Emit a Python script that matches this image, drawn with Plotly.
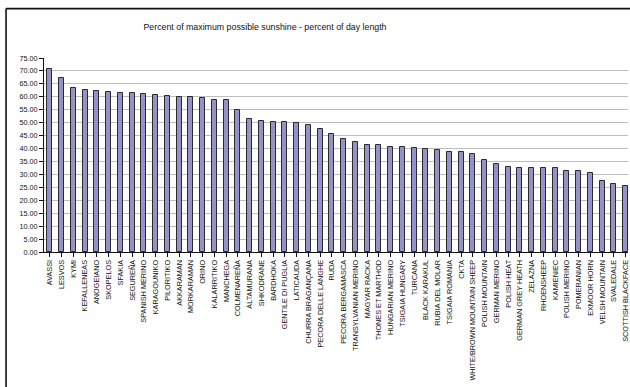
import plotly.graph_objects as go

# Sheep breeds, ordered by sunshine share
breeds = [
    "AVASSI", "LESVOS", "KYMI", "KEFALLENEAS", "ANOGEIANO", "SKOPELOS", "SFAKIA",
    "SEGUREÑA", "SPANISH MERINO", "KARAGOUNIKO", "PILORITIKO", "AKKARAMAN",
    "MORKARAMAN", "ORINO", "KALARRITIKO", "MANCHEGA", "COLMENAREÑA", "ALTAMURANA",
    "SHKODRANE", "BARDHOKA", "GENTILE DI PUGLIA", "LATICAUDA", "CHURRA BRAGANÇANA",
    "PECORA DELLE LANGHE", "RUDA", "PECORA BERGAMASCA", "TRANSYLVANIAN MERINO",
    "MAGYAR RACKA", "THONES ET MARTHOD", "HUNGARIAN MERINO", "TSIGAIA HUNGARY",
    "TURCANA", "BLACK KARAKUL", "RUBIA DEL MOLAR", "TSIGAIA ROMANIA", "CKTA",
    "WHITE/BROWN MOUNTAIN SHEEP", "POLISH MOUNTAIN", "GERMAN MERINO", "POLISH HEAT",
    "GERMAN GREY HEATH", "ZELAZNA", "RHOENSHEEP", "KAMIENIEC", "POLISH MERINO",
    "POMERANIAN", "EXMOOR HORN", "VELSH MOUNTAIN", "SVALEDALE", "SCOTTISH BLACKFACE",
]

# Percent of maximum possible sunshine
sunshine_pct = [
    70.6, 67.4, 63.4, 62.7, 62.2, 61.8, 61.3,
    61.3, 61.1, 60.7, 60.4, 59.8,
    59.8, 59.4, 58.6, 58.6, 55.0, 51.4,
    50.8, 50.3, 50.3, 50.0, 49.0,
    47.4, 45.6, 43.8, 42.6,
    41.4, 41.4, 40.7, 40.7,
    40.1, 39.7, 39.4, 38.7, 38.7,
    38.0, 35.7, 34.1, 32.9,
    32.4, 32.4, 32.4, 32.4, 31.4,
    31.4, 30.5, 27.4, 26.3, 25.4,
]

W, H = 630, 387
plot_left, plot_right = 43.6, 630.0
plot_top, plot_bottom = 58.0, 252.3

fig = go.Figure(
    go.Bar(
        x=list(range(len(breeds))),
        y=sunshine_pct,
        width=0.42,
        marker=dict(color="#9393CA", line=dict(color="#2a2a2a", width=1)),
    )
)

pw = plot_right - plot_left
ph = plot_bottom - plot_top


def px_to_paper_x(px):
    return (px - plot_left) / pw


def px_to_paper_y(py):
    return (plot_bottom - py) / ph


# Outer chart frame: top and left edges (the rest runs past the page)
frame = dict(color="#111111", width=1.6)
fig.add_shape(
    type="line", xref="paper", yref="paper", layer="below",
    x0=px_to_paper_x(5.5), x1=px_to_paper_x(640),
    y0=px_to_paper_y(8.5), y1=px_to_paper_y(8.5), line=frame,
)
fig.add_shape(
    type="line", xref="paper", yref="paper", layer="below",
    x0=px_to_paper_x(5.5), x1=px_to_paper_x(5.5),
    y0=px_to_paper_y(8.5), y1=px_to_paper_y(400), line=frame,
)

fig.update_layout(
    width=W, height=H,
    margin=dict(l=plot_left, r=W - plot_right, t=plot_top, b=H - plot_bottom, pad=0),
    paper_bgcolor="white", plot_bgcolor="white",
    font=dict(family="Liberation Sans, Arial, sans-serif", color="#111111"),
    showlegend=False,
    bargap=0,
    title=dict(
        text="Percent of maximum possible sunshine - percent of day length",
        x=265 / W, xanchor="center", xref="container",
        y=1 - 27 / H, yanchor="middle", yref="container",
        font=dict(size=8.8, color="#111111"),
    ),
)

fig.update_xaxes(
    range=[-0.5, (plot_right - plot_left) / 11.8 - 0.5],
    tickmode="array",
    tickvals=list(range(len(breeds))),
    ticktext=breeds,
    tickangle=-90,
    tickfont=dict(size=7.3),
    ticklabeloverflow="allow",
    ticks="outside", tickson="boundaries", ticklen=4, tickcolor="#111111", tickwidth=1,
    showline=True, linecolor="#111111", linewidth=1,
    showgrid=False, zeroline=False,
)

fig.update_yaxes(
    range=[0, 75],
    dtick=5, tick0=0,
    tickformat=".2f",
    tickfont=dict(size=7.2),
    ticks="outside", ticklen=4, tickcolor="#111111", tickwidth=1,
    showline=True, linecolor="#111111", linewidth=1,
    showgrid=True, gridcolor="#BDBDBD", gridwidth=1,
    zeroline=False,
)

fig.write_html("out.html")
